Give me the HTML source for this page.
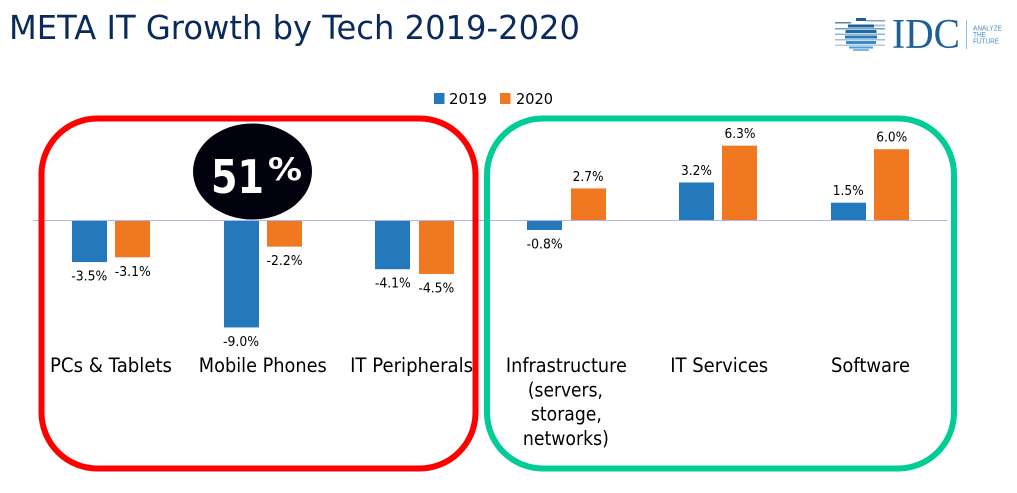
<!DOCTYPE html>
<html lang="en">
<head>
<meta charset="utf-8">
<title>META IT Growth by Tech 2019-2020</title>
<style>
html,body{margin:0;padding:0;background:#fff;width:1017px;height:493px;overflow:hidden}
svg{display:block;font-family:"DejaVu Sans","Liberation Sans",sans-serif}
</style>
</head>
<body>
<svg id="chart" xmlns="http://www.w3.org/2000/svg" width="1017" height="493" viewBox="0 0 1017 493">
  <rect x="0" y="0" width="1017" height="493" fill="#ffffff"/>
  <text x="9" y="39" font-size="33" fill="#0b2a5c" textLength="571" lengthAdjust="spacingAndGlyphs">META IT Growth by Tech 2019-2020</text>

  <g>
    <g>
      <path d="M856 18h10v3h-10z" fill="#1d5f96"/>
      <path d="M866 20h19v1.500h-19z" fill="#7fa8c8"/>
      <path d="M835 22h16v1.500h-16z" fill="#4f86ae"/>
      <path d="M848 24.500h26v3h-26z" fill="#1d5f96"/>
      <path d="M874 24.500h11v2h-11z" fill="#a9c4d8"/>
      <path d="M835 28h50v1.500h-50z" fill="#6f9fc2"/>
      <path d="M845.500 30h31v3h-31z" fill="#1f6aa5"/>
      <path d="M835 33.500h50v1.500h-50z" fill="#8eb4d0"/>
      <path d="M845 35.500h32v3h-32z" fill="#2a78b5"/>
      <path d="M835 39h50v1.500h-50z" fill="#9cc2dc"/>
      <path d="M846 41h30v3h-30z" fill="#3a8cc8"/>
      <path d="M835 44.500h50v1.500h-50z" fill="#a9cde4"/>
      <path d="M849 46.500h24v2h-24z" fill="#4f9bd2"/>
      <path d="M853 49h16v2h-16z" fill="#7db6de"/>
    </g>
    <text x="892" y="48" font-size="42" fill="#1d5f96" style="font-family:'Liberation Serif',serif" textLength="68" lengthAdjust="spacingAndGlyphs">IDC</text>
    <rect x="966" y="20" width="1" height="29" fill="#8fbbdc"/>
    <g font-size="7" fill="#3f8fc8" style="font-family:'Liberation Sans',sans-serif">
      <text x="973" y="30.500" textLength="29" lengthAdjust="spacingAndGlyphs">ANALYZE</text>
      <text x="973" y="37" textLength="13" lengthAdjust="spacingAndGlyphs">THE</text>
      <text x="973" y="43.500" textLength="26" lengthAdjust="spacingAndGlyphs">FUTURE</text>
    </g>
  </g>

  <g>
    <rect x="434" y="93" width="10.500" height="11" fill="#2478bc"/>
    <text x="449" y="104" font-size="15.500" fill="#000" textLength="38" lengthAdjust="spacingAndGlyphs">2019</text>
    <rect x="500" y="93" width="10.500" height="11" fill="#f07820"/>
    <text x="516" y="104" font-size="15.500" fill="#000" textLength="37" lengthAdjust="spacingAndGlyphs">2020</text>
  </g>

  <g id="plot"></g>

  <rect x="41.500" y="118.500" width="434" height="350" rx="56" ry="56" fill="none" stroke="#ff0000" stroke-width="6"/>
  <rect x="487" y="118.500" width="467" height="350" rx="56" ry="56" fill="none" stroke="#00cc96" stroke-width="6"/>

  <g>
    <ellipse cx="252.500" cy="171.500" rx="59.500" ry="48" fill="#02020f"/>
    <text x="211" y="193" font-size="46" font-weight="700" fill="#ffffff" textLength="53" lengthAdjust="spacingAndGlyphs">51</text>
    <text x="268" y="180" font-size="31" font-weight="700" fill="#ffffff" textLength="34" lengthAdjust="spacingAndGlyphs">%</text>
  </g>
</svg>
<script>
var categories = [["PCs & Tablets"], ["Mobile Phones"], ["IT Peripherals"], ["Infrastructure", "(servers,", "storage,", "networks)"], ["IT Services"], ["Software"]];
var values2019 = [-3.5, -9.0, -4.1, -0.8, 3.2, 1.5];
var values2020 = [-3.1, -2.2, -4.5, 2.7, 6.3, 6.0];

var labelFit = {
  "PCs & Tablets": { width: 122, dx: 0 },
  "Mobile Phones": { width: 128, dx: 0 },
  "IT Peripherals": { width: 123, dx: -3 },
  "Infrastructure": { width: 121, dx: 0 },
  "(servers,": { width: 75, dx: -1 },
  "storage,": { width: 71, dx: 0 },
  "networks)": { width: 86, dx: -0.5 },
  "IT Services": { width: 98, dx: 1 },
  "Software": { width: 79, dx: 0.5 }
};

var NS = 'http://www.w3.org/2000/svg';
var plot = document.getElementById('plot');
var zeroY = 220.5;
var pxPerPoint = 11.88;
var firstCenter = 111;
var groupStep = 151.8;
var barWidth = 35;
var barGap = 8.5;

function xCenter(i) { return firstCenter + i * groupStep; }
function yScale(v) { return zeroY - v * pxPerPoint; }
function svgEl(tag) { return document.createElementNS(NS, tag); }
function pct(v) { return v.toFixed(1) + '%'; }

function drawSeries(vals, color, side, year) {
  vals.forEach(function (v, i) {
    var cx = xCenter(i) + side * (barWidth + barGap) / 2;
    var y0 = yScale(Math.max(v, 0));
    var y1 = yScale(Math.min(v, 0));
    var bar = svgEl('rect');
    
    
    bar.setAttribute('x', Math.round(cx - barWidth / 2));
    bar.setAttribute('y', y0);
    bar.setAttribute('width', barWidth);
    bar.setAttribute('height', y1 - y0);
    bar.setAttribute('fill', color);
    plot.appendChild(bar);

    var label = svgEl('text');
    
    
    label.setAttribute('x', cx);
    label.setAttribute('y', v < 0 ? y1 + 18.5 : y0 - 7.5);
    label.setAttribute('text-anchor', 'middle');
    label.setAttribute('font-size', '13');
    label.setAttribute('fill', '#000');
    label.setAttribute('textLength', v < 0 ? 36 : 31);
    label.setAttribute('lengthAdjust', 'spacingAndGlyphs');
    label.textContent = pct(v);
    plot.appendChild(label);
  });
}

drawSeries(values2019, '#2478bc', -1, '2019');
drawSeries(values2020, '#f07820', 1, '2020');

var axisLine = svgEl('rect');


axisLine.setAttribute('x', 33);
axisLine.setAttribute('y', 220);
axisLine.setAttribute('width', 914);
axisLine.setAttribute('height', 1);
axisLine.setAttribute('fill', '#b2b2f2');
plot.appendChild(axisLine);

categories.forEach(function (lines, i) {
  lines.forEach(function (line, j) {
    var fit = labelFit[line];
    var t = svgEl('text');
    
    
    t.setAttribute('x', xCenter(i) + (fit ? fit.dx : 0));
    t.setAttribute('y', 372 + j * 24.3);
    t.setAttribute('text-anchor', 'middle');
    t.setAttribute('font-size', '19.500');
    t.setAttribute('fill', '#000');
    if (fit) {
      t.setAttribute('textLength', fit.width);
      t.setAttribute('lengthAdjust', 'spacingAndGlyphs');
    }
    t.textContent = line;
    plot.appendChild(t);
  });
});
</script>
</body>
</html>
